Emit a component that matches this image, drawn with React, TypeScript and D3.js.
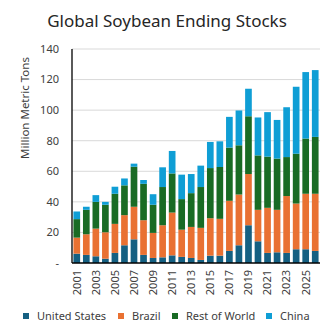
import React from "react";
import * as d3 from "d3";

const years = [
  "2001","2002","2003","2004","2005","2006","2007","2008","2009","2010","2011","2012","2013",
  "2014","2015","2016","2017","2018","2019","2020","2021","2022","2023","2024","2025","2026",
];
const unitedStates = [6.1,5.3,4.4,2.8,6.6,11.6,15.5,5.3,3.3,3.7,5.0,4.0,3.3,2.0,4.8,4.8,7.9,11.6,24.7,14.2,6.6,7.0,6.6,9.0,9.0,7.9];
const brazil = [10.5,13.5,18.1,17.3,19.0,19.7,21.3,22.7,16.4,21.0,28.0,17.8,20.3,21.0,24.5,24.1,32.8,33.2,33.5,20.6,29.5,27.8,37.2,29.9,36.3,37.4];
const restOfWorld = [12.1,16.0,17.5,18.0,19.7,19.5,26.2,23.8,18.4,25.0,25.6,20.0,22.1,26.7,32.8,33.9,34.8,32.2,37.8,35.6,33.5,33.5,25.5,32.6,36.1,37.2];
const china = [5.0,2.0,4.4,1.9,4.6,4.5,2.0,2.5,6.9,12.9,14.7,16.0,12.5,14.0,17.1,16.8,20.1,22.8,18.0,24.8,29.1,25.3,32.6,43.8,43.5,43.7];
const seriesNames = ["United States", "Brazil", "Rest of World", "China"];
const seriesColors = ["#156082", "#E97132", "#196B24", "#0F9ED5"];
const yTicks = [0, 20, 40, 60, 80, 100, 120, 140];

const W = 335, H = 336;
const M = { left: 72, right: 15, top: 49, bottom: 73 };
const FONT = "'Noto Sans', 'Open Sans', Arial, sans-serif";

export default function App() {
  const rows = years.map((y, i) => ({
    year: y,
    "United States": unitedStates[i],
    Brazil: brazil[i],
    "Rest of World": restOfWorld[i],
    China: china[i],
  }));
  const stack = d3.stack<any>().keys(seriesNames)(rows);
  const x = d3.scaleBand().domain(years).range([M.left, W - M.right]).paddingInner(0.3).paddingOuter(0.15);
  const y = d3.scaleLinear().domain([0, 140]).range([H - M.bottom, M.top]);

  const legendItems = [
    { x: 23, label: seriesNames[0] },
    { x: 118, label: seriesNames[1] },
    { x: 172, label: seriesNames[2] },
    { x: 266, label: seriesNames[3] },
  ];

  return (
    <svg width={W} height={H} style={{ position: "absolute", left: 0, top: 0, background: "#fff" }} fontFamily={FONT}>
      <rect x={0} y={0} width={W} height={H} fill="#fff" />
      <text x={167} y={27} textAnchor="middle" fontSize={17} fill="#262626">
        Global Soybean Ending Stocks
      </text>
      {yTicks.map((t) => (
        <g key={t}>
          {t > 0 && (
            <line x1={M.left} x2={W - M.right} y1={y(t)} y2={y(t)} stroke="#d9d9d9" strokeWidth={1} />
          )}
          <text x={59} y={y(t)} dy="0.35em" textAnchor="end" fontSize={11} fill="#404040">
            {t === 0 ? "-" : t}
          </text>
        </g>
      ))}
      <text
        transform={`translate(29, ${(M.top + H - M.bottom) / 2 - 48}) rotate(-90)`}
        textAnchor="middle"
        fontSize={11.5}
        fill="#404040"
      >
        Million Metric Tons
      </text>
      {stack.map((s, si) => (
        <g key={s.key} fill={seriesColors[si]}>
          {s.map((d, i) => (
            <rect
              key={i}
              x={x(years[i])}
              width={x.bandwidth()}
              y={y(d[1])}
              height={Math.max(0, y(d[0]) - y(d[1]))}
            />
          ))}
        </g>
      ))}
      <line x1={M.left} x2={M.left} y1={M.top} y2={H - M.bottom} stroke="#000" strokeWidth={1.3} />
      <line x1={M.left} x2={W - M.right} y1={H - M.bottom} y2={H - M.bottom} stroke="#000" strokeWidth={1.5} />
      {years.map((yr, i) =>
        i % 2 === 0 ? (
          <text
            key={yr}
            transform={`translate(${(x(yr) as number) + x.bandwidth() / 2}, 270) rotate(-90)`}
            textAnchor="end"
            dy="0.35em"
            fontSize={11}
            fill="#404040"
          >
            {yr}
          </text>
        ) : null
      )}
      {legendItems.map((it, i) => (
        <g key={it.label}>
          <rect x={it.x} y={313} width={6} height={6} fill={seriesColors[i]} />
          <text x={it.x + 14} y={316} dy="0.35em" fontSize={11} fill="#404040">
            {it.label}
          </text>
        </g>
      ))}
    </svg>
  );
}
